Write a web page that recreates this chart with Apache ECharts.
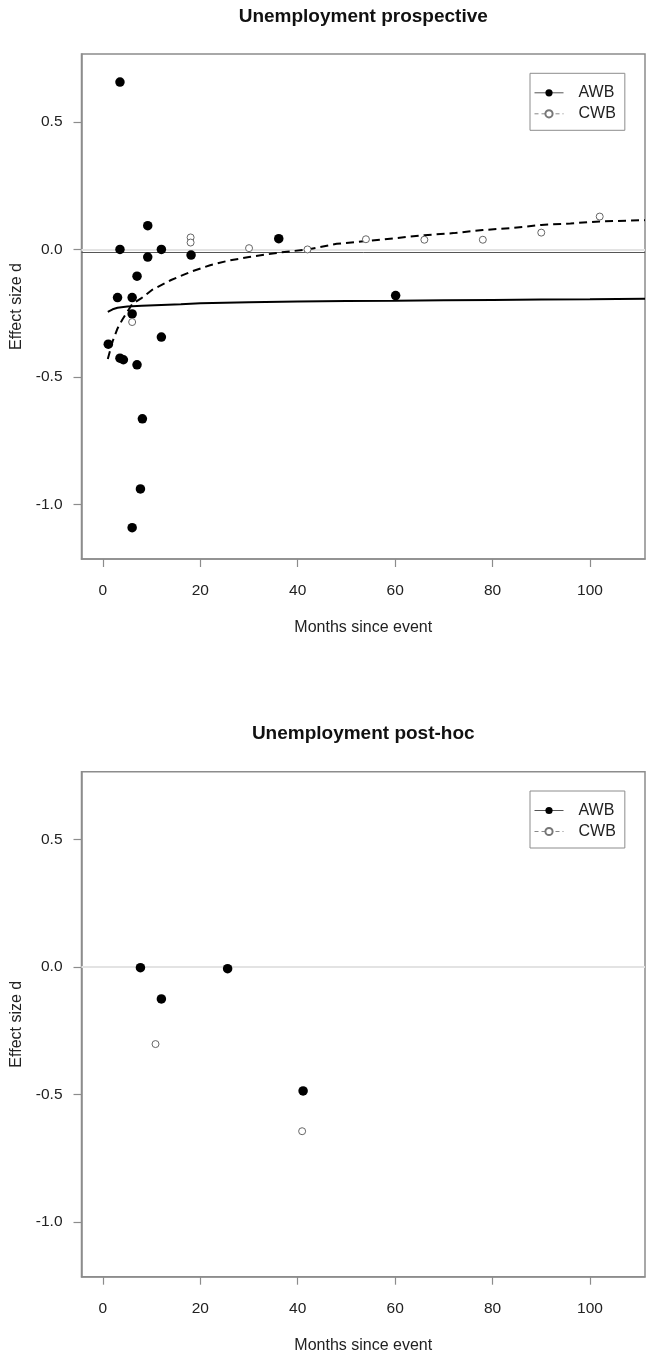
<!DOCTYPE html>
<html><head><meta charset="utf-8">
<script src="https://cdn.jsdelivr.net/npm/echarts@6/dist/echarts.min.js"></script>
<style>html,body{margin:0;padding:0;background:#fff}#c{width:648px;height:1359px}</style>
</head><body><div id="c"></div>
<script>
// ---- data ----
const titles = ['Unemployment prospective', 'Unemployment post-hoc'];
const seriesNames = ['AWB', 'CWB'];
const xTicks = [0, 20, 40, 60, 80, 100];
const yTicks = [-1.0, -0.5, 0.0, 0.5];
const xRange = [-4.4, 111.3];
const yRange = [-1.215, 0.767];

// prospective panel
const awbProspective = [[1.1,-0.372],[3.0,-0.189],[3.5,0.657],[3.5,0.0],[3.5,-0.427],[4.2,-0.433],
  [6.0,-0.189],[6.0,-0.253],[6.0,-1.092],[7.0,-0.105],[7.0,-0.453],[7.7,-0.94],[8.1,-0.665],
  [9.2,0.093],[9.2,-0.03],[12.0,0.0],[12.0,-0.344],[18.1,-0.022],[36.1,0.042],[60.1,-0.181]];
const cwbProspective = [[6.0,-0.285],[18.0,0.047],[18.0,0.027],[30.0,0.005],[42.0,0.0],
  [54.0,0.04],[66.0,0.038],[78.0,0.038],[90.0,0.066],[102.0,0.129]];
const awbFit = [[1,-0.245],[2,-0.235],[3,-0.229],[5,-0.224],[8,-0.221],[12,-0.218],[16,-0.215],
  [20,-0.211],[30,-0.207],[40,-0.204],[50,-0.202],[60,-0.201],[70,-0.199],[80,-0.198],
  [90,-0.197],[100,-0.196],[111.3,-0.194]];
const cwbFit = [[1,-0.43],[2,-0.36],[3,-0.31],[4,-0.275],[6,-0.215],[8,-0.19],[10,-0.16],
  [14,-0.12],[18,-0.088],[22,-0.062],[26,-0.043],[30,-0.03],[36,-0.013],[42,0.0],[48,0.022],
  [54,0.033],[60,0.044],[66,0.056],[72,0.064],[78,0.076],[84,0.084],[90,0.096],[96,0.102],
  [102,0.11],[111.3,0.115]];
const refLinesProspective = [0.0, -0.007];

// post-hoc panel
const awbPostHoc = [[7.7,-0.002],[12.0,-0.125],[25.6,-0.006],[41.1,-0.486]];
const cwbPostHoc = [[10.8,-0.302],[40.9,-0.644]];
const refLinesPostHoc = [0.0];

// ---- layout ----
const FONT = "'Liberation Sans', Arial, Helvetica, sans-serif";
const gridLeft = 81.5, gridWidth = 563.5;
const gridTops = [54, 771.7], gridHeight = 505;

function xAxisCfg(i) {
  return {
    type: 'value', gridIndex: i, min: xRange[0], max: xRange[1],
    name: 'Months since event', nameLocation: 'middle', nameGap: 61,
    nameTextStyle: { fontFamily: FONT, fontSize: 16, color: '#222' },
    axisLine: { show: true, onZero: false, lineStyle: { color: '#8c8c8c', width: 1.5 } },
    axisTick: { show: true, inside: false, length: 8, customValues: xTicks, lineStyle: { color: '#8c8c8c', width: 1.2 } },
    axisLabel: { customValues: xTicks, margin: 24, fontFamily: FONT, fontSize: 15.5, color: '#222' },
    splitLine: { show: false }
  };
}
function yAxisCfg(i) {
  return {
    type: 'value', gridIndex: i, min: yRange[0], max: yRange[1],
    name: 'Effect size d', nameLocation: 'middle', nameGap: 55,
    nameTextStyle: { fontFamily: FONT, fontSize: 16, color: '#222' },
    axisLine: { show: true, onZero: false, lineStyle: { color: '#8c8c8c', width: 1.5 } },
    axisTick: { show: true, inside: false, length: 8, customValues: yTicks, lineStyle: { color: '#8c8c8c', width: 1.2 } },
    axisLabel: { customValues: yTicks, margin: 19, fontFamily: FONT, fontSize: 15.5, color: '#222',
      formatter: v => (Math.abs(v) < 1e-9 ? 0 : v).toFixed(1) },
    splitLine: { show: false }
  };
}
function legendCfg(i) {
  return {
    orient: 'vertical', left: 530, top: gridTops[i] + 19.3,
    backgroundColor: '#fff', borderColor: '#8c8c8c', borderWidth: 1,
    padding: [11, 9, 8, 4], itemWidth: 29, itemHeight: 9, itemGap: 4,
    textStyle: { fontFamily: FONT, fontSize: 16, color: '#222', lineHeight: 17, padding: [0, 0, 0, 10] },
    selectedMode: false,
    data: [
      { name: seriesNames[0], itemStyle: { color: '#000', opacity: 1 }, lineStyle: { color: '#555', width: 1, type: 'solid' } },
      { name: seriesNames[1], itemStyle: { color: '#777', opacity: 1 }, lineStyle: { color: '#888', width: 1, type: [4, 3] } }
    ]
  };
}
function refLines(vals) {
  return {
    silent: true, symbol: 'none', label: { show: false }, z: 1,
    data: vals.map((v, k) => ({ yAxis: v, lineStyle: (k === 0)
      ? { color: '#e3e3e3', width: 2, type: 'solid' }
      : { color: '#555', width: 1, type: 'solid' } }))
  };
}
const awbDot = { type: 'scatter', symbol: 'circle', symbolSize: 9.5, itemStyle: { color: '#000', opacity: 1 } };
const cwbDot = { type: 'scatter', symbol: 'circle', symbolSize: 7,
  itemStyle: { color: '#fff', borderColor: '#666', borderWidth: 1, opacity: 1 } };

const option = {
  animation: false,
  backgroundColor: '#fff',
  title: titles.map((t, i) => ({
    text: t, left: gridLeft + gridWidth / 2, top: gridTops[i] - 47, textAlign: 'center', padding: 0,
    textStyle: { fontFamily: FONT, fontSize: 19, fontWeight: 'bold', color: '#111' }
  })),
  legend: [legendCfg(0), legendCfg(1)],
  grid: gridTops.map(t => ({ left: gridLeft, top: t, width: gridWidth, height: gridHeight,
    show: true, borderColor: '#8c8c8c', borderWidth: 1.5, backgroundColor: 'transparent' })),
  xAxis: [xAxisCfg(0), xAxisCfg(1)],
  yAxis: [yAxisCfg(0), yAxisCfg(1)],
  series: [
    { name: seriesNames[0], type: 'line', xAxisIndex: 0, yAxisIndex: 0, data: awbFit,
      symbol: 'circle', showSymbol: false, clip: true, z: 3,
      itemStyle: { color: '#000' }, lineStyle: { color: '#000', width: 2, type: 'solid' } },
    { name: seriesNames[1], type: 'line', xAxisIndex: 0, yAxisIndex: 0, data: cwbFit,
      symbol: 'emptyCircle', showSymbol: false, clip: true, z: 3,
      itemStyle: { color: '#777' }, lineStyle: { color: '#000', width: 2, type: [8, 5] } },
    Object.assign({ name: seriesNames[0], xAxisIndex: 0, yAxisIndex: 0, data: awbProspective, z: 4,
      markLine: refLines(refLinesProspective) }, awbDot),
    Object.assign({ name: seriesNames[1], xAxisIndex: 0, yAxisIndex: 0, data: cwbProspective, z: 4 }, cwbDot),
    Object.assign({ name: seriesNames[0], xAxisIndex: 1, yAxisIndex: 1, data: awbPostHoc, z: 4,
      markLine: refLines(refLinesPostHoc) }, awbDot),
    Object.assign({ name: seriesNames[1], xAxisIndex: 1, yAxisIndex: 1, data: cwbPostHoc, z: 4 }, cwbDot)
  ]
};
const chart = echarts.init(document.getElementById('c'), null, { renderer: 'canvas' });
chart.setOption(option);
</script>
</body></html>
